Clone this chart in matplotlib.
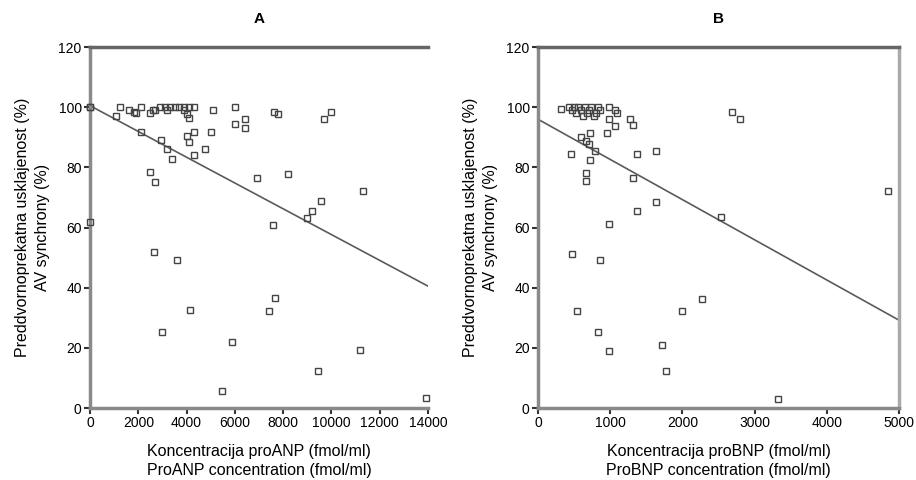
import matplotlib
matplotlib.use("Agg")
import matplotlib.pyplot as plt
import numpy as np

plt.rcParams['font.family'] = ['Liberation Sans', 'DejaVu Sans']

# panel A: proANP (fmol/ml) vs AV synchrony (%)
anp_x = [0, 0, 0, 1060, 1230, 1600, 1800, 1900, 2100, 2500, 2600, 2700,
         2900, 3100, 3300, 3500, 3700, 3900, 4100, 4300, 3200, 3900, 4000, 4100,
         5100, 6000, 6000, 6400, 6400, 7600, 7800, 9700, 10000, 2100, 2950,
         3200, 3400, 4000, 4100, 4300, 5000, 4300, 4750, 2500, 2700, 6900,
         8200, 11300, 9550, 9200, 9000, 7560, 2650, 3600, 4130, 3000, 5870,
         5450, 7670, 7420, 9450, 11200, 13900]
anp_y = [100, 100, 62, 97, 100, 99, 98.4, 98, 100, 98, 99, 99,
         100, 100, 100, 100, 100, 100, 100, 100, 99, 99, 97.6, 96.5,
         99, 100, 94.5, 96, 93, 98.4, 97.7, 96, 98.4, 91.8, 89,
         86, 82.7, 90.4, 88.4, 91.8, 91.6, 84, 86, 78.4, 75, 76.5,
         77.7, 72.3, 68.8, 65.4, 63, 60.7, 51.8, 49.3, 32.7, 25.4, 21.8,
         5.8, 36.6, 32.4, 12.4, 19.3, 3.3]

# panel B: proBNP (fmol/ml) vs AV synchrony (%)
bnp_x = [315, 430, 470, 500, 530, 560, 590, 620, 650, 680, 710, 740, 770,
         800, 830, 860, 977, 1070, 1100, 977, 1270, 1320, 1070, 955, 726,
         590, 660, 700, 795, 460, 726, 1365, 1630, 660, 670, 1320, 1630,
         1375, 2530, 2690, 2800, 4845, 977, 475, 855, 543, 2000, 2270, 830,
         977, 1720, 1770, 3330]
bnp_y = [99.3, 100, 99, 100, 98, 100, 99, 97, 100, 98, 99, 100, 97,
         98, 100, 99, 100, 99, 98, 96, 96, 94, 93.6, 91.3, 91.3,
         90, 88.8, 87.7, 85.4, 84.3, 82.3, 84.3, 85.4, 78.2, 75.4, 76.3, 68.4,
         65.4, 63.4, 98.4, 96.2, 72.1, 61.3, 51.2, 49.3, 32.1, 32.1, 36.3, 25.1,
         19, 21, 12.3, 3]

# fitted lines, read at the ends of the x range
fit_a_x = [0, 14000]
fit_a_y = [100.5, 40.5]
fit_b_x = [0, 5000]
fit_b_y = [96, 29.2]

fig = plt.figure(figsize=(9.16, 4.8), dpi=100)
axA = fig.add_axes([0.0983, 0.15, 0.369, 0.752])
axB = fig.add_axes([0.5873, 0.15, 0.3941, 0.752])

ylab = 'Preddvornoprekatna usklajenost (%)\nAV synchrony (%)'
spine_col = '#8a8a8a'


def panel(ax, x, y, fx, fy, xmax, xstep, title, xlab, right_spine):
    ax.plot(fx, fy, '-', color='#5a5a5a', lw=1.2, zorder=2)
    ax.plot(x, y, 's', ms=4.2, mfc='none', mec='#444444', mew=1.0,
            clip_on=False, zorder=3)
    ax.set_xlim(0, xmax)
    ax.set_ylim(0, 120)
    ax.set_xticks(np.arange(0, xmax + 1, xstep))
    ax.set_yticks(np.arange(0, 121, 20))
    ax.tick_params(direction='out', length=4, width=1.5, color='#333333',
                   labelsize=10, pad=2)
    for s in ['left', 'bottom', 'top']:
        ax.spines[s].set_color(spine_col)
        ax.spines[s].set_linewidth(2.5)
    ax.spines['top'].set_color('#666666')
    ax.spines['right'].set_visible(right_spine)
    ax.spines['right'].set_color('#aaaaaa')
    ax.spines['right'].set_linewidth(2.5)
    ax.set_title(title, fontsize=11, fontweight='bold', pad=17)
    ax.set_xlabel(xlab, fontsize=11.5, labelpad=10, linespacing=1.35)
    ax.set_ylabel(ylab, fontsize=11.5, labelpad=6, linespacing=1.4)


panel(axA, anp_x, anp_y, fit_a_x, fit_a_y, 14000, 2000, 'A',
      'Koncentracija proANP (fmol/ml)\nProANP concentration (fmol/ml)', False)
panel(axB, bnp_x, bnp_y, fit_b_x, fit_b_y, 5000, 1000, 'B',
      'Koncentracija proBNP (fmol/ml)\nProBNP concentration (fmol/ml)', True)

plt.savefig('out.png', dpi=100)
